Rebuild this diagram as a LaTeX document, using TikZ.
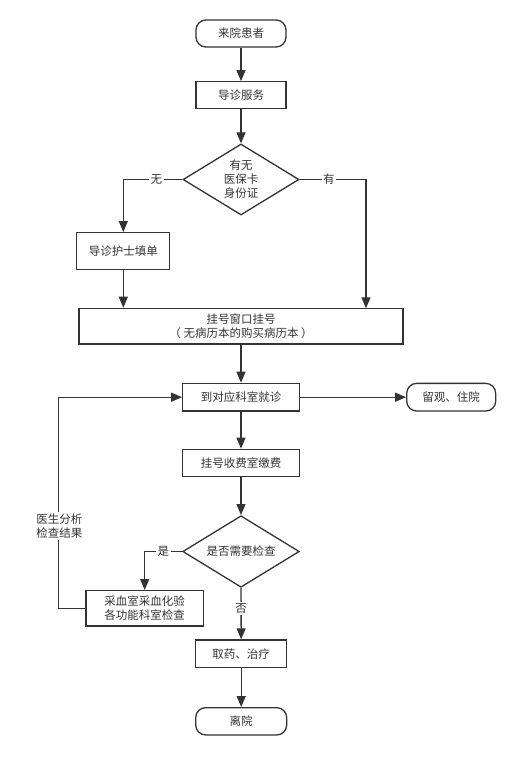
\documentclass[tikz,border=0pt]{standalone}
\usepackage{fontspec}
\setmainfont{Noto Sans CJK SC}
\usetikzlibrary{arrows.meta,shapes.geometric}
\definecolor{ink}{HTML}{333333}
\begin{document}
\begin{tikzpicture}[x=1pt,y=-1pt,
  every node/.style={font=\fontsize{11.5}{14}\selectfont, text=ink},
  proc/.style={draw=ink, line width=1.3pt, rectangle, inner sep=0pt, align=center},
  term/.style={draw=ink, line width=1.3pt, rectangle, rounded corners=10pt, inner sep=0pt, align=center},
  dec/.style={draw=ink, line width=1.3pt, diamond, aspect=1.63, inner sep=0pt, align=center},
  arr/.style={draw=ink, line width=1.3pt, -{Triangle[length=11pt,width=9pt]}},
  lbl/.style={fill=white, inner sep=1.5pt, text=ink}]
\useasboundingbox (0,0) rectangle (511,768);
\node[term, minimum width=90pt, minimum height=27pt] (start) at (241,33.5) {来院患者};
\node[proc, minimum width=90pt, minimum height=27pt] (guide) at (241,95.3) {导诊服务};
\node[dec, minimum width=116pt, minimum height=71pt] (d1) at (241,179.5) {有无\\医保卡\\身份证};
\node[proc, minimum width=93pt, minimum height=36.6pt] (nurse) at (123.3,251) {导诊护士填单};
\node[proc, minimum width=324pt, minimum height=35.7pt] (big) at (241,326.2) {挂号窗口挂号\\（ 无病历本的购买病历本 ）};
\coordinate (rt) at (366,308.3);
\node[proc, minimum width=116.6pt, minimum height=27.7pt] (visit) at (241,397.2) {到对应科室就诊};
\node[term, minimum width=89pt, minimum height=27.7pt] (stay) at (451.2,397.2) {留观、住院};
\node[proc, minimum width=116.6pt, minimum height=27.4pt] (pay) at (241,463) {挂号收费室缴费};
\node[dec, minimum width=116.6pt, minimum height=71.6pt] (d2) at (241,551.5) {是否需要检查};
\node[proc, minimum width=117.3pt, minimum height=35.3pt] (test) at (144.7,608.3) {采血室采血化验\\各功能科室检查};
\node[proc, minimum width=91pt, minimum height=27.7pt] (take) at (241.2,653.8) {取药、治疗};
\node[term, minimum width=91pt, minimum height=27.3pt] (leave) at (241.2,721.3) {离院};

\draw[arr] (start) -- (guide);
\draw[arr] (guide) -- (d1);
\draw[arr] (d1.west) -| node[lbl, pos=0.22] {无} (nurse.north);
\draw[arr] (d1.east) -| node[lbl, pos=0.22] {有} (rt);
\draw[arr] (nurse.south) -- (nurse.south |- big.north);
\draw[arr] (big) -- (visit);
\draw[arr] (visit) -- (stay);
\draw[arr] (visit) -- (pay);
\draw[arr] (pay) -- (d2);
\draw[arr] (d2.west) -| node[lbl, pos=0.25] {是} (test.north);
\draw[arr] (test.west) -- ++(-26.7,0) |- (visit.west);
\node[lbl, align=center] (doc) at (59.3,526) {医生分析\\检查结果};
\draw[arr] (d2) -- node[lbl, pos=0.4] {否} (take);
\draw[arr] (take) -- (leave);
\end{tikzpicture}
\end{document}
